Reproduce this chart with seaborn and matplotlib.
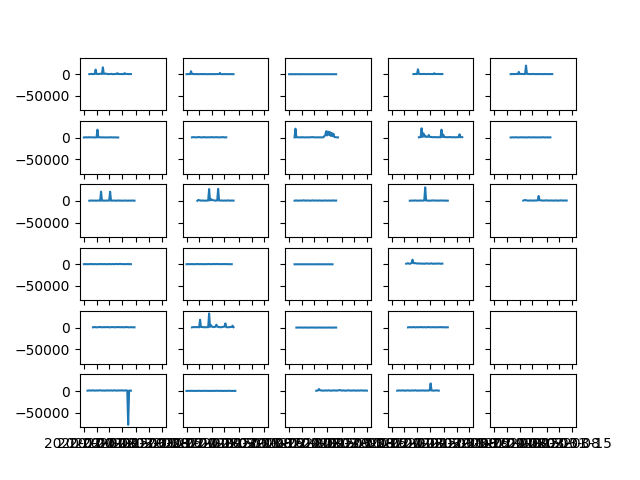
import pandas as pd
import matplotlib
matplotlib.use("Agg")
import matplotlib.pyplot as plt
import seaborn as sns


# common daily time axis
dates = pd.date_range("2020-02-01", periods=44, freq="D")

# first day (index into dates) of every panel, row by row, None = empty panel
start_day = [3, 0, 0, 12, 9,
             0, 3, 3, 15, 9,
             3, 6, 3, 10, 16,
             0, 0, 3, 8, None,
             5, 3, 4, 9, None,
             2, 0, 15, 3, None]

# daily readings per panel
series_01 = [300, 800, 400, 600, 900, 500, 1200, 700, 900, 1500, 600, 400,
             900, 300, 500, 800, 700, 400, 600, 300, 900, 700, 400, 500]
series_02 = [200, 500, 300, 600, 600, 300, 400, 200, 500, 300, 600, 200, 300, 400,
             200, 500, 300, 400, 600, 300, 200, 500, 300, 200, 400, 300, 200]
series_03 = [100, 200, 150, 100, 200, 120, 100, 150, 200, 100, 120, 150, 100, 200,
             150, 100, 120, 200, 150, 100, 200, 120, 150, 100, 200, 150, 100]
series_04 = [400, 700, 600, 900, 500, 600, 800, 400, 700, 500, 600, 400, 800,
             500, 700, 400, 600]
series_05 = [300, 600, 400, 800, 500, 700, 700, 500, 600, 900, 600, 400, 700,
             500, 300, 600, 400, 500, 300, 600, 400, 300, 500, 400]
series_06 = [400, 800, 500, 900, 600, 700, 400, 500, 700, 800, 500, 700, 400,
             600, 500, 800, 400, 600, 500, 300]
series_07 = [600, 1200, 500, 900, 1300, 600, 800, 1100, 500, 900, 700, 1200, 600,
             900, 1000, 500, 800, 1200, 600, 700]
series_08 = [500, 900, 800, 600, 900, 700, 500, 800, 600, 900, 1200, 700, 600,
             800, 500, 700, 900, 6000, 5000, 6500, 4000, 3500, 1500, 800, 500]
series_09 = [800, 1200, 1500, 2500, 1600, 2000, 1400, 1500, 900, 1300, 800, 1100,
             700, 1500, 1300, 1200, 900, 1400, 800, 1100, 700, 1000, 900, 1200, 1000]
series_10 = [300, 700, 500, 900, 400, 600, 800, 500, 700, 400, 900, 600, 500, 800,
             400, 700, 500, 600, 900, 400, 700, 500, 600]
series_11 = [600, 1100, 800, 900, 700, 1200, 600, 900, 900, 800, 1100, 1000, 700,
             900, 1000, 600, 1200, 800, 900, 700, 1100, 600, 900, 800, 1000, 700]
series_12 = [500, 1800, 800, 1200, 700, 900, 1100, 1300, 2600, 1500, 900, 1300,
             1100, 1200, 800, 1000, 900, 1300, 700, 1100, 800]
series_13 = [700, 1300, 600, 1100, 900, 1500, 800, 1200, 1000, 700, 1400, 900, 1100,
             800, 1300, 600, 1000, 1200, 800, 1100, 700, 1300, 900, 1000]
series_14 = [600, 1000, 800, 1200, 700, 900, 1100, 800, 1300, 1200, 900, 700,
             1000, 1400, 800, 1100, 700, 1200, 900, 1000, 800, 700]
series_15 = [900, 2300, 1100, 800, 1300, 900, 1200, 1000, 1400, 1600, 1300, 900,
             1100, 1500, 800, 1200, 1000, 900, 1300, 800, 1100, 1400, 900, 1200, 1000]
series_16 = [400, 600, 300, 500, 700, 400, 600, 300, 500, 800, 400, 600, 500, 300,
             700, 400, 600, 500, 900, 400, 1100, 500, 600, 400, 700, 500, 400]
series_17 = [300, 500, 400, 600, 300, 500, 700, 400, 600, 300, 500, 400, 700, 500,
             400, 800, 500, 900, 400, 600, 500, 700, 400, 500, 300, 400]
series_18 = [100, 200, 150, 250, 100, 200, 150, 100, 250, 200, 150, 100, 200, 250,
             150, 100, 200, 150, 100, 200, 150, 100]
series_19 = [1500, 2500, 1200, 3200, 2800, 2800, 1800, 2200, 1500, 1900, 1300,
             2100, 1700, 1500, 2300, 1200, 1800, 1600, 2000, 1400, 1700]
series_21 = [900, 1500, 800, 1300, 1600, 900, 1400, 1100, 1700, 800, 1300, 1500,
             900, 1200, 1600, 1000, 1400, 900, 1300, 1500, 800, 1200, 1000, 900]
series_22 = [800, 1600, 1200, 1500, 900, 1800, 1400, 1000, 1300, 1100, 2000,
             2500, 1500, 2200, 2400, 1400, 1100, 1800, 2600, 1300, 1000, 1500,
             1900, 1200]
series_23 = [200, 400, 300, 500, 200, 400, 300, 200, 500, 300, 400, 200, 300, 500,
             200, 400, 300, 200, 400, 300, 200, 400, 300]
series_24 = [700, 1300, 900, 1500, 800, 1200, 1000, 1600, 900, 1300, 800, 1500,
             1100, 900, 1400, 800, 1200, 1000, 1400, 900, 1100, 800, 1000]
series_26 = [900, 1500, 1100, 1700, 1000, 1400, 1200, 1800, 1100, 1300, 1000, 1600,
             1200, 1500, 1100, 1700, 1000, 1400, 1300, 1600, 1100, 1500, 1300,
             1200, 900]
series_27 = [300, 500, 400, 600, 300, 500, 400, 700, 300, 500, 600, 400, 500, 300,
             600, 400, 500, 700, 400, 600, 300, 500, 400, 600, 500, 300, 400, 500]
series_28 = [800, 1400, 1900, 1300, 900, 1500, 1100, 1700, 900, 1300, 1600, 1000,
             1400, 2400, 1100, 1500, 900, 1300, 1700, 1000, 1200, 1500, 900, 1300,
             1100, 1600, 1000, 1400, 900]
series_29 = [900, 1400, 1100, 1600, 900, 1300, 1500, 1000, 1400, 1200, 1700, 900,
             1300, 1100, 1500, 1000, 1300, 1200, 1500, 1400, 1000, 1300, 1600, 900]

# short bursts between the daily readings: (days after 2020-02-01, value)
spikes_01 = [(6.5, 10800), (10.5, 16000), (18.5, 2500), (22.5, 2600)]
spikes_02 = [(2.5, 7000), (18.5, 3000)]
spikes_03 = []
spikes_04 = [(14.5, 11500), (23.5, 2300)]
spikes_05 = [(13.5, 5400), (17.5, 20000)]
spikes_06 = [(7.5, 18400)]
spikes_07 = []
spikes_08 = [(3.5, 20700), (20.5, 15000), (21.5, 14000), (22.5, 13000),
             (23.5, 11000), (24.5, 9000)]
spikes_09 = [(16.5, 21500), (17.5, 10000), (18.5, 4600), (20.5, 6000),
             (27.5, 18400), (28.5, 7000), (37.5, 7700)]
spikes_10 = []
spikes_11 = [(9.5, 21500), (14.5, 21500)]
spikes_12 = [(6.5, 2300), (12.5, 27600), (13.5, 4600), (17.5, 28000)]
spikes_13 = []
spikes_14 = [(18.5, 31500)]
spikes_15 = [(24.5, 11500)]
spikes_16 = []
spikes_17 = []
spikes_18 = []
spikes_19 = [(11.5, 10800)]
spikes_21 = []
spikes_22 = [(7.5, 18400), (12.5, 33000), (13.5, 6000), (16.5, 7000),
             (21.5, 10000), (25.5, 4600)]
spikes_23 = []
spikes_24 = []
spikes_26 = [(24.5, -78000)]
spikes_27 = []
spikes_28 = [(16.5, 4600)]
spikes_29 = [(21.5, 17600)]

all_series = [series_01, series_02, series_03, series_04, series_05,
              series_06, series_07, series_08, series_09, series_10,
              series_11, series_12, series_13, series_14, series_15,
              series_16, series_17, series_18, series_19, None,
              series_21, series_22, series_23, series_24, None,
              series_26, series_27, series_28, series_29, None]
all_spikes = [spikes_01, spikes_02, spikes_03, spikes_04, spikes_05,
              spikes_06, spikes_07, spikes_08, spikes_09, spikes_10,
              spikes_11, spikes_12, spikes_13, spikes_14, spikes_15,
              spikes_16, spikes_17, spikes_18, spikes_19, None,
              spikes_21, spikes_22, spikes_23, spikes_24, None,
              spikes_26, spikes_27, spikes_28, spikes_29, None]


fig, axes = plt.subplots(6, 5, sharex=True, sharey=True, figsize=(6.4, 4.8), dpi=100)

for ax, start, vals, spikes in zip(axes.flat, start_day, all_series, all_spikes):
    if vals is None:
        continue
    daily = pd.DataFrame({"date": dates[start:start + len(vals)], "value": vals})
    burst = pd.DataFrame({"date": [dates[0] + pd.Timedelta(days=d) for d, _ in spikes],
                          "value": [v for _, v in spikes]})
    df = pd.concat([daily, burst]).sort_values("date")
    sns.lineplot(data=df, x="date", y="value", ax=ax, color="#1f77b4")
    ax.set_xlabel("")
    ax.set_ylabel("")

fig.savefig("out.png", dpi=100)
